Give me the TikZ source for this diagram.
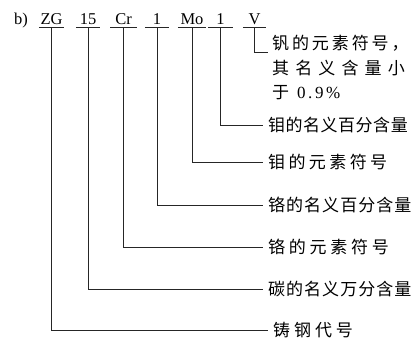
\documentclass[tikz,border=0pt]{standalone}
\usepackage{fontspec}
\setmainfont{Liberation Serif}
\newfontfamily\cjk{Noto Sans CJK SC}
\newcommand\lsp[1]{\addfontfeatures{LetterSpace=#1}}
\begin{document}
\begin{tikzpicture}[x=1pt,y=-1pt,
  tok/.style={inner sep=0pt, anchor=base, font=\fontsize{16.5}{16.5}\selectfont, text height=11pt, text depth=3pt},
  lab/.style={anchor=west, inner xsep=5pt, inner ysep=0pt, font=\cjk\fontsize{17}{17}\selectfont},
  conn/.style={line width=0.7pt, draw=black!85}]
\useasboundingbox (0,0) rectangle (418,341);
% code tokens
\node[tok] (b) at (21,24) {b)};
\node[tok, minimum width=25pt] (zg) at (51.5,24) {ZG};
\node[tok, minimum width=24pt] (c15) at (88,24) {15};
\node[tok, minimum width=26pt] (cr) at (123.5,24) {Cr};
\node[tok, minimum width=24pt] (n1) at (157,24) {1};
\node[tok, minimum width=28pt] (mo) at (192,24) {Mo};
\node[tok, minimum width=25pt] (n2) at (220.5,24) {1};
\node[tok, minimum width=23pt] (v) at (254.5,24) {V};
% underlines
\foreach \t in {zg,c15,cr,n1,mo,n2,v}
  \draw[conn] (\t.south west) -- (\t.south east);
% labels
\node[lab, anchor=north west, align=left, font=\cjk\fontsize{17}{24.5}\selectfont] (vl) at (267,35)
  {{\lsp{17}钒的元素符号，}\\{\lsp{36}其名义含量小}\\于\hspace{8pt}{\rmfamily\fontsize{17}{17}\selectfont\addfontfeatures{LetterSpace=15}0.9\%}};
\coordinate (vc) at (268,52.5);
\node[lab] (l1) at (263,125) {\lsp{3}钼的名义百分含量};
\node[lab] (l2) at (263,162) {\lsp{20}钼的元素符号};
\node[lab] (l3) at (263,205) {\lsp{6}铬的名义百分含量};
\node[lab] (l4) at (263,247) {\lsp{22}铬的元素符号};
\node[lab] (l5) at (263,289) {\lsp{6}碳的名义万分含量};
\node[lab] (l6) at (268,330) {\lsp{23}铸钢代号};
% connectors
\draw[conn] (v.south) |- (vc);
\draw[conn] (n2.south) |- (l1.west);
\draw[conn] (mo.south) |- (l2.west);
\draw[conn] (n1.south) |- (l3.west);
\draw[conn] (cr.south) |- (l4.west);
\draw[conn] (c15.south) |- (l5.west);
\draw[conn] (zg.south) |- (l6.west);
\end{tikzpicture}
\end{document}
